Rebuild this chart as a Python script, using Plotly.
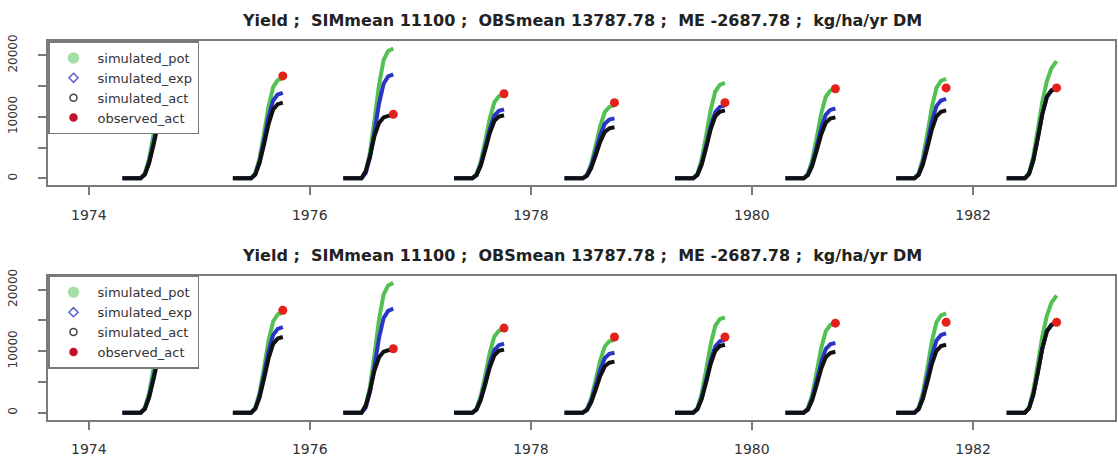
import plotly.graph_objects as go
import pandas as pd

# ---------------- data ----------------
years = [1974, 1975, 1976, 1977, 1978, 1979, 1980, 1981, 1982]
season_doy = [112, 172, 186, 200, 215, 230, 245, 260, 277]

simulated_pot = [
    [0, 0, 800, 3200, 7200, 11520, 14560, 15680, 16000],
    [0, 0, 820, 3260, 7340, 11740, 14830, 15970, 16300],
    [0, 0, 1060, 4220, 9500, 15190, 19200, 20680, 21100],
    [0, 0, 680, 2720, 6120, 9790, 12380, 13330, 13600],
    [0, 0, 590, 2370, 5330, 8530, 10780, 11610, 11850],
    [0, 0, 780, 3100, 6980, 11160, 14110, 15190, 15500],
    [0, 0, 730, 2910, 6550, 10480, 13240, 14260, 14550],
    [0, 0, 810, 3230, 7270, 11630, 14700, 15830, 16150],
    [0, 0, 900, 3600, 8000, 12500, 15800, 17900, 19050],
]
simulated_exp = [
    [0, 0, 650, 2600, 5850, 9360, 11830, 12740, 13000],
    [0, 0, 700, 2780, 6260, 10010, 12650, 13620, 13900],
    [0, 0, 850, 3380, 7610, 12170, 15380, 16560, 16900],
    [0, 0, 560, 2240, 5040, 8060, 10190, 10980, 11200],
    [0, 0, 490, 1950, 4390, 7020, 8870, 9560, 9750],
    [0, 0, 590, 2370, 5330, 8530, 10780, 11610, 11850],
    [0, 0, 570, 2270, 5110, 8170, 10330, 11120, 11350],
    [0, 0, 650, 2580, 5810, 9290, 11740, 12640, 12900],
    [0, 0, 730, 2920, 6570, 10510, 13290, 14310, 14600],
]
simulated_act = [
    [0, 0, 610, 2450, 5510, 8820, 11150, 12010, 12250],
    [0, 0, 620, 2460, 5540, 8860, 11190, 12050, 12300],
    [0, 0, 1200, 3600, 6900, 9000, 9900, 10150, 10250],
    [0, 0, 510, 2050, 4610, 7380, 9330, 10050, 10250],
    [0, 0, 420, 1660, 3740, 5980, 7550, 8130, 8300],
    [0, 0, 550, 2210, 4970, 7960, 10060, 10830, 11050],
    [0, 0, 500, 1980, 4460, 7130, 9010, 9700, 9900],
    [0, 0, 550, 2210, 4970, 7960, 10060, 10830, 11050],
    [0, 0, 730, 2910, 6550, 10480, 13240, 14260, 14550],
]
observed_doy = 277
observed_act = [14740, 16650, 10400, 13750, 12300, 12300, 14550, 14700, 14700]

x_tick_years = [1974, 1976, 1978, 1980, 1982]
y_tick_values = [0, 5000, 10000, 15000, 20000]
y_tick_labels = ["0", "", "10000", "", "20000"]

title_text = "Yield ;  SIMmean 11100 ;  OBSmean 13787.78 ;  ME -2687.78 ;  kg/ha/yr DM"

# ---------------- helpers ----------------
def day(year, doy):
    return pd.Timestamp(f"{year}-01-01") + pd.Timedelta(days=doy - 1)

def series_xy(values):
    xs, ys = [], []
    for yr, vals in zip(years, values):
        for d, v in zip(season_doy, vals):
            xs.append(day(yr, d))
            ys.append(v)
        xs.append(None)
        ys.append(None)
    return xs, ys

obs_x = [day(yr, observed_doy) for yr in years]

C_POT = "#52c152"
C_EXP = "#2b35c4"
C_ACT = "#111111"
C_OBS = "#e3201c"
AXC = "#7a7a7a"
TXT = "#333333"
FONT = "DejaVu Sans, Arial, sans-serif"

fig = go.Figure()

L, R = 48 / 1118, 1115 / 1118
panels = [
    dict(xa="x", ya="y", top=35, bottom=181, legend="legend", title_y=14),
    dict(xa="x2", ya="y2", top=273, bottom=419, legend="legend2", title_y=252),
]

for p in panels:
    for vals, col, name in [(simulated_pot, C_POT, "simulated_pot"),
                            (simulated_exp, C_EXP, "simulated_exp"),
                            (simulated_act, C_ACT, "simulated_act")]:
        xs, ys = series_xy(vals)
        fig.add_trace(go.Scatter(x=xs, y=ys, mode="lines", line=dict(color=col, width=4),
                                 xaxis=p["xa"], yaxis=p["ya"], showlegend=False,
                                 connectgaps=False, name=name))
    fig.add_trace(go.Scatter(x=obs_x, y=observed_act, mode="markers",
                             marker=dict(color=C_OBS, size=9),
                             xaxis=p["xa"], yaxis=p["ya"], showlegend=False, name="observed_act"))
    # legend entries
    for name, sym, col, size in [("simulated_pot", "circle", "#a6dfa6", 10),
                                 ("simulated_exp", "diamond-open", "#5a5fd0", 7),
                                 ("simulated_act", "circle-open", "#444444", 7),
                                 ("observed_act", "circle", "#c0102a", 7)]:
        fig.add_trace(go.Scatter(x=[None], y=[None], mode="markers", name=name,
                                 marker=dict(symbol=sym, color=col, size=size,
                                             line=dict(color=col, width=1.5)),
                                 xaxis=p["xa"], yaxis=p["ya"], legend=p["legend"]))

axis_common = dict(showline=True, mirror=True, linecolor=AXC, linewidth=2,
                   ticks="outside", ticklen=8, tickwidth=1.5, tickcolor=AXC,
                   showgrid=False, zeroline=False)

layout = dict(width=1118, height=461, margin=dict(l=0, r=0, t=0, b=0),
              paper_bgcolor="white", plot_bgcolor="white", showlegend=True,
              annotations=[], shapes=[])

title_svg = title_text.replace("  ", "\u00a0\u00a0")

for i, p in enumerate(panels):
    sfx = "" if i == 0 else str(i + 1)
    y0 = 1 - p["bottom"] / 461
    y1 = 1 - p["top"] / 461
    layout["xaxis" + sfx] = dict(axis_common, domain=[L, R], anchor="y" + sfx, type="date",
                                 range=["1973-08-19", "1983-04-15"],
                                 tickvals=[f"{y}-01-01" for y in x_tick_years],
                                 ticktext=[str(y) for y in x_tick_years],
                                 tickfont=dict(family=FONT, size=14, color=TXT),
                                 ticklabelstandoff=8)
    layout["yaxis" + sfx] = dict(axis_common, domain=[y0, y1], anchor="x" + sfx,
                                 range=[-1120, 22240], tickvals=y_tick_values,
                                 ticktext=y_tick_labels, tickangle=-90,
                                 tickfont=dict(family=FONT, size=12, color=TXT),
                                 ticklabelstandoff=16)
    layout["legend" + sfx] = dict(x=L, y=y1, xanchor="left", yanchor="top",
                                  bgcolor="white", bordercolor=AXC, borderwidth=1.5,
                                  font=dict(family=FONT, size=13, color=TXT),
                                  itemwidth=38, tracegroupgap=0)
    layout["annotations"].append(dict(text="<b>" + title_svg + "</b>", xref="paper", yref="paper",
                                      x=(L + R) / 2, y=1 - p["title_y"] / 461,
                                      xanchor="center", yanchor="middle", showarrow=False,
                                      font=dict(family=FONT, size=16, color="#222222")))

fig.update_layout(**layout)
fig.write_html("out.html")
